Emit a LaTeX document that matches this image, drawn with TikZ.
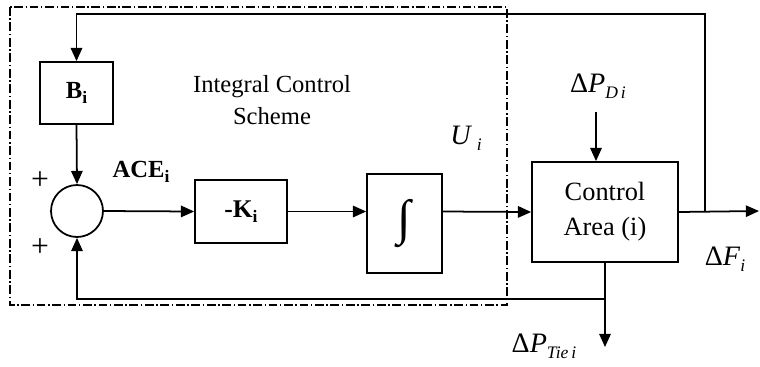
\documentclass[tikz,border=0pt]{standalone}
\usepackage{fontspec}
\setmainfont{Liberation Serif}
\usetikzlibrary{arrows.meta}
\tikzset{
  blk/.style={draw, line width=1pt, rectangle, inner sep=0pt},
  conn/.style={line width=1pt},
  arr/.style={conn, -{Triangle[length=7.5pt, width=6.5pt]}},
  lbl/.style={font=\fontsize{14}{17}\selectfont, inner sep=0pt},
  frame/.style={line width=0.6pt, dash pattern=on 5pt off 1.5pt on 0.8pt off 1.5pt},
}
\newcommand{\sbi}[1]{\raisebox{-0.45ex}{\fontsize{10}{12}\selectfont #1}}
\begin{document}
\begin{tikzpicture}[x=0.02cm, y=-0.02cm]
\useasboundingbox (0,0) rectangle (760,366);
% dashed frame
\draw[frame] (10,7) rectangle (507,305);
% blocks
\node[blk, minimum width=1.46cm, minimum height=1.24cm, font=\fontsize{14}{17}\selectfont\bfseries] (bi) at (76.5,93) {B\sbi{\textbf{i}}};
\node[draw, line width=1pt, circle, minimum size=1.04cm, inner sep=0pt] (sum) at (77,211) {};
\node[blk, minimum width=1.84cm, minimum height=1.26cm, font=\fontsize{14.5}{17}\selectfont\bfseries] (k) at (241,211.5) {-K\sbi{\textbf{i}}};
\node[blk, minimum width=1.5cm, minimum height=1.98cm, font=\fontsize{28}{30}\selectfont] (intg) at (404.5,223.5) {∫};
\node[blk, minimum width=2.92cm, minimum height=2cm, align=center, font=\fontsize{15}{17}\selectfont] (ca) at (605,212) {Control\\[3pt]Area (i)};
% coordinates
\coordinate (j1) at (705,211);
\coordinate (tr) at (705,14);
\coordinate (out) at (759,211);
\coordinate (bj) at (605,299);
\coordinate (ptie) at (605,347);
\coordinate (pd) at (596,112);
% connectors
\draw[arr] (sum.east) -- (k.west);
\draw[arr] (k.east) -- (k.east -| intg.west);
\draw[arr] (intg.east |- k.east) -- (ca.west);
\draw[arr] (ca.east) -- (out);
\draw[arr] (j1) -- (tr) -| (bi.north);
\draw[arr] (bi.south) -- (sum.north);
\draw[conn] (ca.south) -- (bj);
\draw[arr] (bj) -| (sum.south);
\draw[arr] (bj) -- (ptie);
\draw[arr] (pd) -- (pd |- ca.north);
% labels
\node[lbl, font=\fontsize{18}{20}\selectfont] (p1) at (40,181) {+};
\node[lbl, font=\fontsize{18}{20}\selectfont] (p2) at (40,248) {+};
\node[lbl, font=\fontsize{14}{17}\selectfont\bfseries] (ace) at (141,172) {ACE\sbi{\textbf{i}}};
\node[lbl, align=center] (ics) at (272,100) {Integral Control\\[1pt]Scheme};
\node[lbl, font=\fontsize{16}{18}\selectfont] (ui) at (466,138) {\textit{U}\,\sbi{\textit{i}}};
\node[lbl, font=\fontsize{16}{18}\selectfont] (pdl) at (598,86) {Δ\textit{P}\sbi{\textit{D\,i}}};
\node[lbl, font=\fontsize{16}{18}\selectfont] (fl) at (725,259) {Δ\textit{F}\sbi{\textit{i}}};
\node[lbl, font=\fontsize{16}{18}\selectfont] (ptl) at (544,346) {Δ\textit{P}\sbi{\textit{Tie\,i}}};
\end{tikzpicture}
\end{document}
